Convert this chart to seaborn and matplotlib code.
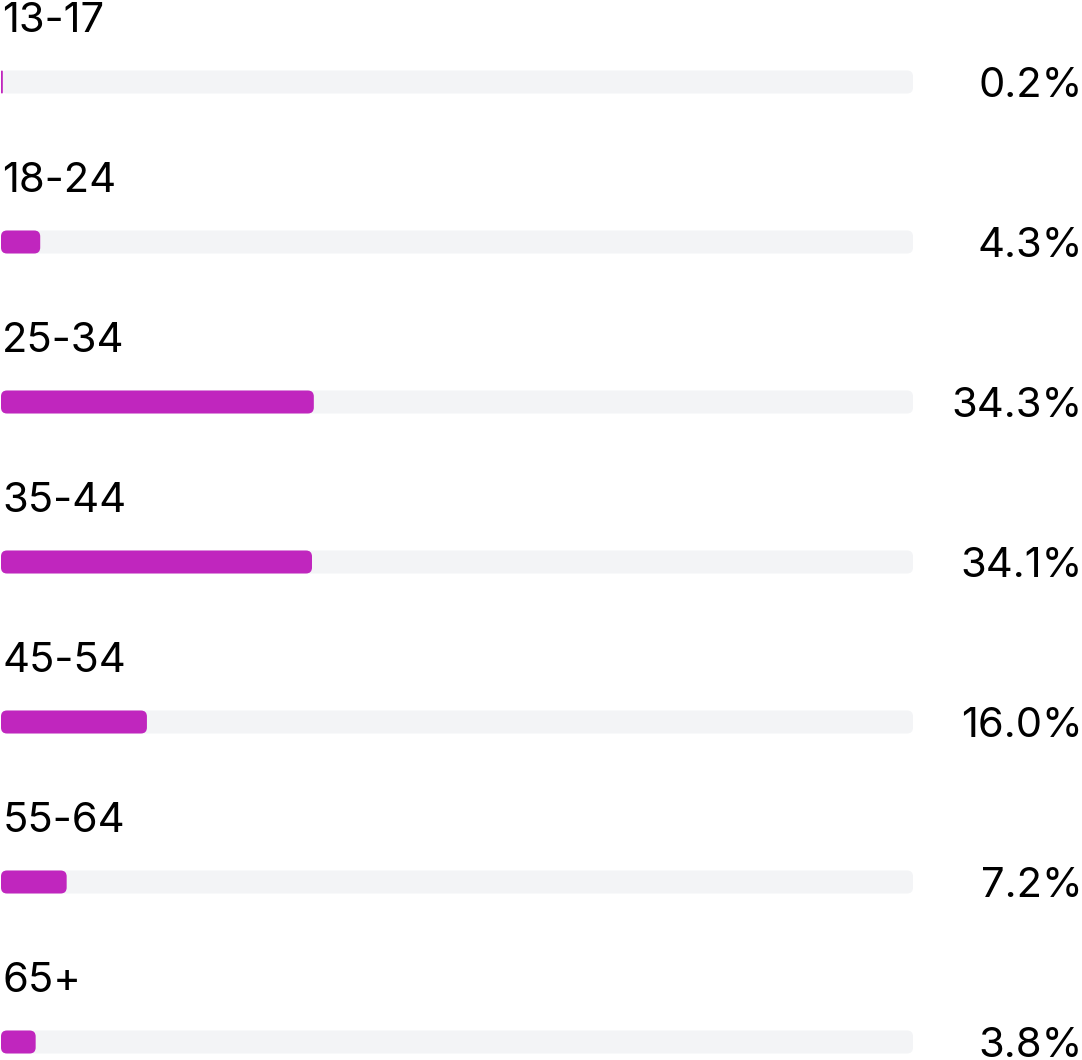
import matplotlib
matplotlib.use("Agg")
import matplotlib.pyplot as plt
from matplotlib.patches import FancyBboxPatch
import seaborn as sns
import pandas as pd

categories = ["13-17", "18-24", "25-34", "35-44", "45-54", "55-64", "65+"]
values = [0.2, 4.3, 34.3, 34.1, 16.0, 7.2, 3.8]
value_labels = ["0.2%", "4.3%", "34.3%", "34.1%", "16.0%", "7.2%", "3.8%"]
track = [100] * len(categories)

BAR_COLOR = "#C026BE"
TRACK_COLOR = "#F3F4F6"

sns.set_theme(style="white")
plt.rcParams["font.family"] = ["Inter", "DejaVu Sans"]

W, H = 1082, 1060
fig = plt.figure(figsize=(W / 100, H / 100), dpi=100)
track_px = 912
ax = fig.add_axes([1 / W, 0, track_px / W, 1])

df = pd.DataFrame({"cat": categories, "val": values, "track": track})
bar_h = 23 / 160
sns.barplot(data=df, y="cat", x="track", color=TRACK_COLOR, width=bar_h, ax=ax, saturation=1)
sns.barplot(data=df, y="cat", x="val", color=BAR_COLOR, width=bar_h, ax=ax, saturation=1)

ax.set_xlim(0, 100)
ax.set_ylim(6 + 18 / 160, -82 / 160)
ax.axis("off")

# convert to rounded bars
px_per_x = track_px / 100
px_per_y = 160
r_px = 6
for p in list(ax.patches):
    x0, y0 = p.get_x(), p.get_y()
    w, h = p.get_width(), p.get_height()
    fc = p.get_facecolor()
    z = p.get_zorder()
    p.remove()
    r = min(r_px / px_per_x, w / 2)
    aspect = (1 / px_per_y) / (1 / px_per_x)
    fb = FancyBboxPatch((x0, y0), w, h,
                        boxstyle=f"round,pad=0,rounding_size={r}",
                        mutation_aspect=aspect, facecolor=fc,
                        edgecolor="none", zorder=z)
    ax.add_patch(fb)

for i, (cat, lab) in enumerate(zip(categories, value_labels)):
    ax.text(0.15, i - 50 / 160, cat, ha="left", va="baseline",
            fontsize=30, color="#000000")
    fig.text(1083 / W, 1 - (86 + 160 * i) / H, lab, ha="right", va="center",
             fontsize=30, color="#000000")

fig.savefig("out.png", dpi=100)
